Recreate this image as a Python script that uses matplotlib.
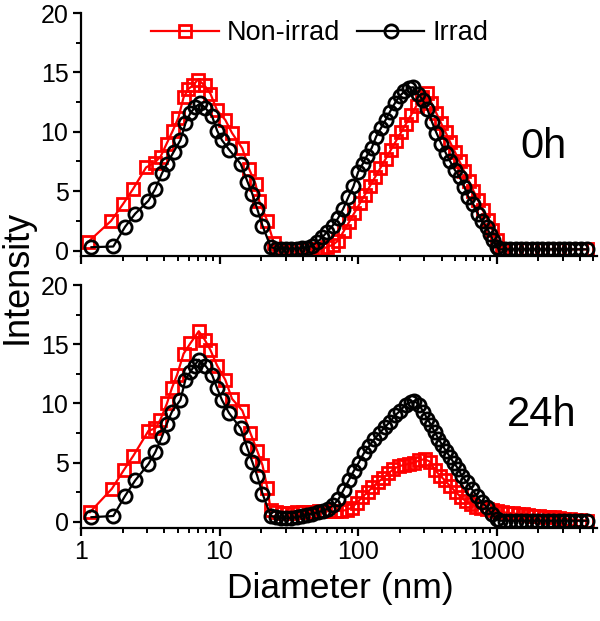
import matplotlib
matplotlib.use("Agg")
import matplotlib.pyplot as plt
from matplotlib.ticker import MultipleLocator, LogLocator, NullFormatter

plt.rcParams['font.family'] = ['Liberation Sans', 'DejaVu Sans']

# shared zero tail of the size distributions (nm)
tail_d = [1140, 1250, 1370, 1500, 1640, 1790, 1960, 2140, 2340, 2560, 2800, 3060, 3350, 3660, 4050, 4490]

# ---- 0h panel ----
top_non_d = [1.12, 1.65, 2.02, 2.38, 2.95, 3.4, 3.75, 4.15, 4.6, 5.05, 5.5, 5.95, 6.4, 7.0, 7.8, 8.6,
             9.6, 11.0, 12.3, 14.6, 16.3, 18.2, 19.3, 22.1, 24.7, 27, 29.5, 32.3, 35.3, 38.6, 42.2,
             46.1, 50.4, 55, 60, 66, 72, 79, 86, 94, 103, 112, 122, 133, 145, 158, 172, 187, 204,
             222, 242, 264, 288, 312, 338, 366, 396, 428, 463, 500, 540, 583, 630, 680, 735, 795,
             860, 930, 1005, 1085] + tail_d
top_non_i = [0.7, 2.5, 3.95, 5.2, 7.0, 7.4, 7.9, 9.0, 10.1, 11.2, 12.9, 13.6, 13.9, 14.4, 13.9, 13.2,
             11.8, 11.0, 9.9, 8.6, 6.9, 5.6, 4.2, 2.5, 0.6, 0.15, 0.15, 0.15, 0.15, 0.15, 0.15,
             0.15, 0.15, 0.15, 0.3, 0.5, 0.84, 1.66, 2.39, 3.17, 3.98, 4.7, 5.45, 6.21, 6.96, 7.72,
             8.46, 9.19, 9.95, 10.68, 11.43, 12.2, 12.95, 13.3, 12.45, 11.6, 10.76, 9.96, 9.1, 8.3,
             7.5, 6.66, 5.86, 5.03, 4.22, 3.39, 2.56, 1.73, 0.9, 0.1] + [0.1] * len(tail_d)

top_irr_d = [1.19, 1.71, 2.08, 2.46, 3.07, 3.44, 3.84, 4.17, 4.66, 5.22, 5.67, 6.17, 6.7, 7.28, 7.9,
             8.84, 9.6, 10.4, 11.7, 14.2, 15.9, 17.2, 18.7, 20.4, 23.4, 25.5, 27.8, 30.3, 33, 36,
             39.3, 42.8, 46.5, 50.5, 55, 60, 65.5, 71.5, 78, 85, 92.5, 100, 108, 116, 125, 135, 146,
             158, 170, 184, 199, 216, 233, 250, 270, 292, 316, 342, 368, 398, 430, 462, 498, 540,
             585, 625, 675, 732, 780, 845, 895, 945, 1000, 1040] + tail_d
top_irr_i = [0.28, 0.34, 2.0, 3.1, 4.2, 5.2, 6.5, 7.3, 8.3, 9.3, 10.7, 11.6, 12.1, 12.4, 12.0,
             11.3, 10.1, 9.3, 8.5, 7.3, 5.8, 4.8, 3.5, 2.1, 0.3, 0.15, 0.15, 0.15, 0.15, 0.15,
             0.2, 0.25, 0.4, 0.7, 1.1, 1.6, 2.1, 2.7, 3.5, 4.5, 5.4, 6.6, 7.3, 8.0, 8.6, 9.6, 10.3,
             11.0, 11.7, 12.4, 13.0, 13.4, 13.7, 13.75, 13.2, 12.7, 11.9, 10.8, 9.9, 9.0, 8.2, 7.5,
             6.8, 6.2, 5.35, 4.5, 3.95, 3.1, 2.5, 2.0, 1.4, 0.85, 0.3, 0.1] + [0.1] * len(tail_d)

# ---- 24h panel ----
bot_non_d = [1.16, 1.67, 2.03, 2.39, 3.07, 3.44, 3.73, 4.17, 4.53, 4.93, 5.5, 6.17, 7.08, 7.8, 8.6,
             9.6, 11.0, 12.3, 14.6, 16.7, 18.7, 20.4, 22.1, 23.4, 25.5, 28, 30.5, 33.5, 36.5, 40,
             44, 48, 52.5, 57.5, 63, 69, 75.5, 82.5, 90, 98, 107, 117, 127, 139, 151, 165, 180, 196,
             214, 233, 254, 277, 302, 329, 358, 390, 425, 463, 505, 550, 600, 654, 713, 777, 847,
             923, 1006, 1097, 1196, 1304, 1421, 1549, 1688, 1840, 2006, 2186, 2383, 2598, 2832,
             3087, 3365, 3668, 3998, 4490]
bot_non_i = [0.82, 2.8, 4.35, 5.6, 7.7, 7.9, 8.6, 10.0, 11.3, 12.4, 14.2, 15.1, 16.1, 15.4, 14.5,
             13.2, 12.0, 10.4, 9.4, 7.5, 6.0, 4.8, 2.9, 1.0, 0.8, 0.75, 0.75, 0.75, 0.8, 0.8,
             0.85, 0.85, 0.9, 0.9, 0.9, 0.9, 0.95, 1.0, 1.2, 1.6, 2.1, 2.5, 2.95, 3.35, 3.7, 4.1,
             4.45, 4.7, 4.8, 4.9, 5.0, 5.2, 5.3, 5.1, 4.4, 3.9, 3.5, 3.0, 2.55, 2.1, 1.75, 1.5, 1.3,
             1.2, 1.1, 1.0, 0.9, 0.82, 0.78, 0.72, 0.68, 0.63, 0.58, 0.53, 0.5, 0.45, 0.42, 0.38,
             0.33, 0.28, 0.23, 0.18, 0.14, 0.1]

bot_irr_d = [1.19, 1.71, 2.08, 2.46, 3.07, 3.44, 3.84, 4.17, 4.53, 5.22, 5.67, 6.17, 6.6, 7.08, 7.9,
             8.84, 9.6, 10.4, 11.7, 14.2, 15.9, 17.2, 18.7, 20.4, 23.4, 25.5, 27.8, 30.3, 33, 36,
             39.3, 42.8, 46.7, 51, 55.5, 60.5, 66, 72, 78.5, 85.5, 93, 101, 110, 120, 131, 143, 156,
             170, 185, 202, 220, 240, 255, 275, 296, 316, 336, 357, 380, 405, 430, 460, 490, 527,
             560, 606, 660, 718, 778, 847, 922, 1002, 1060] + tail_d
bot_irr_i = [0.4, 0.5, 2.2, 3.5, 4.9, 5.9, 7.2, 8.3, 9.3, 10.3, 12.0, 12.7, 13.2, 13.7, 13.2,
             12.4, 11.3, 10.3, 9.2, 7.9, 6.2, 5.1, 3.9, 2.4, 0.5, 0.4, 0.35, 0.3, 0.35, 0.4,
             0.5, 0.6, 0.7, 0.8, 0.95, 1.1, 1.4, 1.9, 2.7, 3.5, 4.3, 5.0, 5.8, 6.4, 7.0, 7.5, 8.0,
             8.45, 9.0, 9.4, 9.9, 10.1, 10.2, 9.9, 9.3, 8.7, 8.2, 7.6, 7.0, 6.5, 6.0, 5.5, 5.0, 4.5,
             3.9, 3.4, 2.8, 2.2, 1.67, 1.25, 0.68, 0.25, 0.1] + [0.1] * len(tail_d)

series_labels = ['Non-irrad', 'Irrad']
panel_labels = ['0h', '24h']
xtick_vals = [1, 10, 100, 1000]
xtick_text = ['1', '10', '100', '1000']

fig = plt.figure(figsize=(6.0, 6.21), dpi=100)
ax_top = fig.add_axes([0.135, 0.587, 0.86, 0.392])
ax_bot = fig.add_axes([0.135, 0.150, 0.86, 0.391])

panels = [(ax_top, top_non_d, top_non_i, top_irr_d, top_irr_i),
          (ax_bot, bot_non_d, bot_non_i, bot_irr_d, bot_irr_i)]

for ax, nd, ni, idd, ii in panels:
    ax.plot(nd, ni, color='red', lw=1.6, marker='s', ms=8.8, mfc='none', mew=2.0,
            label=series_labels[0])
    ax.plot(idd, ii, color='black', lw=1.6, marker='o', ms=9.5, mfc='none', mew=2.0,
            label=series_labels[1])
    ax.set_xscale('log')
    ax.set_xlim(1, 5300)
    ax.set_ylim(-0.5, 20)
    ax.yaxis.set_major_locator(MultipleLocator(5))
    ax.yaxis.set_minor_locator(MultipleLocator(2.5))
    ax.set_xticks(xtick_vals)
    ax.set_xticklabels(xtick_text)
    ax.xaxis.set_minor_locator(LogLocator(base=10, subs=range(2, 10)))
    ax.xaxis.set_minor_formatter(NullFormatter())
    for s in ['top', 'right']:
        ax.spines[s].set_visible(False)
    for s in ['left', 'bottom']:
        ax.spines[s].set_linewidth(1.6)
    ax.tick_params(which='major', length=6, width=1.6, labelsize=18, pad=3)
    ax.tick_params(which='minor', length=3.5, width=1.4)

ax_top.tick_params(labelbottom=False)

ax_top.legend(loc='center', bbox_to_anchor=(0.463, 0.917), ncol=2, frameon=False,
              fontsize=19.5, handlelength=2.5, columnspacing=0.6, handletextpad=0.3,
              borderaxespad=0)

fig.text(0.905, 0.763, panel_labels[0], fontsize=30, ha='center', va='center')
fig.text(0.903, 0.332, panel_labels[1], fontsize=30, ha='center', va='center')
fig.text(0.029, 0.554, 'Intensity', fontsize=26, rotation=90, ha='center', va='center')
fig.text(0.568, 0.053, 'Diameter (nm)', fontsize=25.5, ha='center', va='center')

fig.savefig('out.png', dpi=100)
